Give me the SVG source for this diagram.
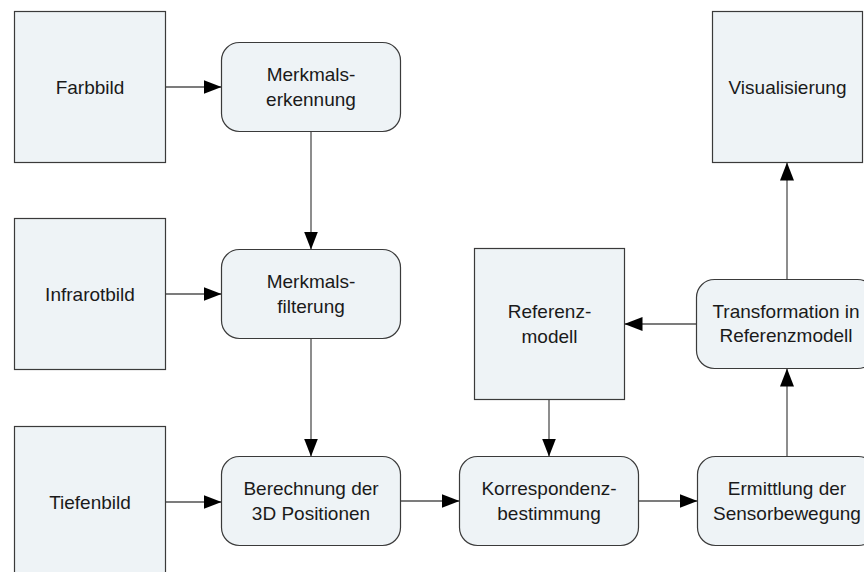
<svg xmlns="http://www.w3.org/2000/svg" width="864" height="572" viewBox="0 0 864 572">
<style>
.box{fill:#eef3f6;stroke:#3a3a3a;stroke-width:1.2}
.lbl{font-family:"Liberation Sans",Arial,sans-serif;font-size:19px;fill:#1a1a1a;text-anchor:middle}
.con{stroke:#505050;stroke-width:1.3;fill:none;marker-end:url(#ah)}
</style>
<defs>
<marker id="ah" markerUnits="userSpaceOnUse" markerWidth="18" markerHeight="14" refX="18" refY="7" orient="auto">
<path d="M0,0 L18,7 L0,14 Z" fill="#000"/>
</marker>
</defs>
<rect width="864" height="572" fill="#fff"/>
<g id="connectors">
<line class="con" x1="165.5" y1="87" x2="221.5" y2="87"/>
<line class="con" x1="311" y1="131.5" x2="311" y2="249.5"/>
<line class="con" x1="165.5" y1="294" x2="221.5" y2="294"/>
<line class="con" x1="311" y1="338.5" x2="311" y2="456.5"/>
<line class="con" x1="165.5" y1="502" x2="221.5" y2="502"/>
<line class="con" x1="400.5" y1="501" x2="459.5" y2="501"/>
<line class="con" x1="549" y1="399.5" x2="549" y2="456.5"/>
<line class="con" x1="638.5" y1="501" x2="697.5" y2="501"/>
<line class="con" x1="787" y1="456.5" x2="787" y2="368.5"/>
<line class="con" x1="696.5" y1="324" x2="624.5" y2="324"/>
<line class="con" x1="787" y1="279.5" x2="787" y2="162.5"/>
</g>
<g id="farbbild">
<rect class="box" x="14.5" y="11.5" width="151" height="151"/>
<text class="lbl" x="90" y="93.5">Farbbild</text>
</g>
<g id="infrarotbild">
<rect class="box" x="14.5" y="218.5" width="151" height="151"/>
<text class="lbl" x="90" y="300.5">Infrarotbild</text>
</g>
<g id="tiefenbild">
<rect class="box" x="14.5" y="426.5" width="151" height="160"/>
<text class="lbl" x="90" y="508.5">Tiefenbild</text>
</g>
<g id="merkmalserkennung">
<rect class="box" x="221.5" y="42.5" width="179" height="89" rx="18"/>
<text class="lbl" x="311" y="81">Merkmals-</text>
<text class="lbl" x="311" y="105.5">erkennung</text>
</g>
<g id="merkmalsfilterung">
<rect class="box" x="221.5" y="249.5" width="179" height="89" rx="18"/>
<text class="lbl" x="311" y="288">Merkmals-</text>
<text class="lbl" x="311" y="312.5">filterung</text>
</g>
<g id="berechnung">
<rect class="box" x="221.5" y="456.5" width="179" height="89" rx="18"/>
<text class="lbl" x="311" y="495">Berechnung der</text>
<text class="lbl" x="311" y="519.5">3D Positionen</text>
</g>
<g id="korrespondenz">
<rect class="box" x="459.5" y="456.5" width="179" height="89" rx="18"/>
<text class="lbl" x="549" y="495">Korrespondenz-</text>
<text class="lbl" x="549" y="519.5">bestimmung</text>
</g>
<g id="ermittlung">
<rect class="box" x="697.5" y="456.5" width="179" height="89" rx="18"/>
<text class="lbl" x="787" y="495">Ermittlung der</text>
<text class="lbl" x="787" y="519.5">Sensorbewegung</text>
</g>
<g id="referenzmodell">
<rect class="box" x="474.5" y="248.5" width="150" height="151"/>
<text class="lbl" x="549.5" y="318">Referenz-</text>
<text class="lbl" x="549.5" y="342.5">modell</text>
</g>
<g id="transformation">
<rect class="box" x="696.5" y="279.5" width="179" height="89" rx="18"/>
<text class="lbl" x="786" y="317.5">Transformation in</text>
<text class="lbl" x="786" y="342">Referenzmodell</text>
</g>
<g id="visualisierung">
<rect class="box" x="712.5" y="11.5" width="150" height="151"/>
<text class="lbl" x="787.5" y="93.5">Visualisierung</text>
</g>
</svg>
